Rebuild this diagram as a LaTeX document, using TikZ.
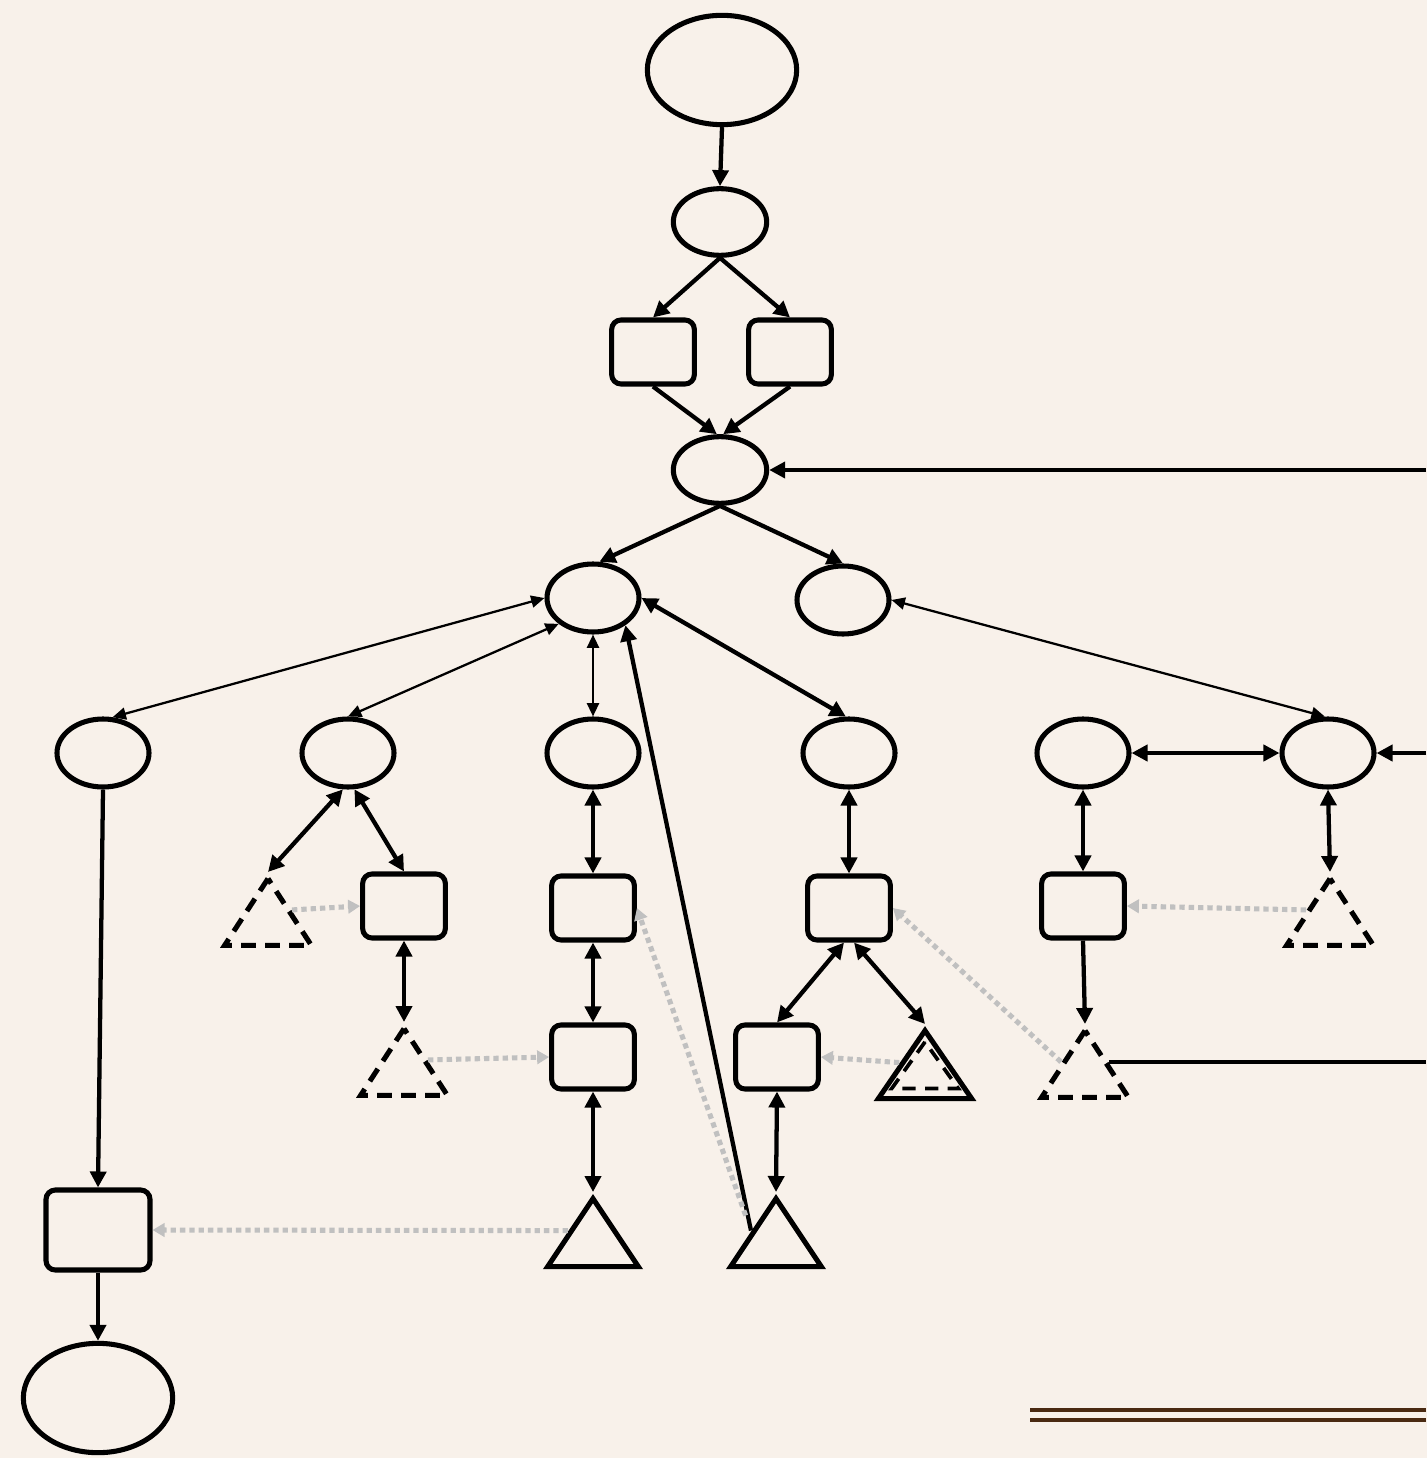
\documentclass[tikz,border=0pt]{standalone}
\usetikzlibrary{shapes.geometric,arrows.meta,calc}
\definecolor{paper}{HTML}{F8F1EA}
\definecolor{hintgray}{HTML}{C0C0C0}
\definecolor{rulebrown}{HTML}{4A2A12}
\tikzset{
  every node/.style={inner sep=0pt},
  oval/.style={ellipse, draw, line width=3.8pt, minimum width=69pt, minimum height=51pt},
  bigoval/.style={oval, minimum width=112pt, minimum height=82pt},
  midoval/.style={oval, minimum width=70pt, minimum height=50pt},
  box/.style={rectangle, rounded corners=7pt, draw, line width=3.8pt, minimum width=62pt, minimum height=48pt},
  bigbox/.style={box, minimum width=78pt, minimum height=60pt},
  tri/.style={isosceles triangle, isosceles triangle stretches, shape border rotate=90,
    draw, line width=3.8pt, minimum width=65pt, minimum height=50pt, anchor=apex},
  dtri/.style={tri, dash pattern=on 11pt off 7pt},
  link/.style={line width=3.2pt, -{Triangle[length=12pt,width=12pt]}},
  blink/.style={line width=3.2pt, {Triangle[length=12pt,width=12pt]}-{Triangle[length=12pt,width=12pt]}},
  tlink/.style={line width=1.7pt, {Triangle[length=10pt,width=9pt]}-{Triangle[length=10pt,width=9pt]}},
  hint/.style={hintgray, line width=3.8pt, dash pattern=on 4pt off 3pt, -{Triangle[length=9pt,width=10pt]}},
}
\begin{document}
\begin{tikzpicture}[x=0.75pt,y=-0.75pt]
% paper
\useasboundingbox (0,0) rectangle (1426,1458);
\fill[paper] (-10,-10) rectangle (1436,1468);

% top chain
\node[bigoval] (E0) at (722,70) {};
\node[midoval] (E1) at (720,222) {};
\node[box] (R1) at (653,352) {};
\node[box] (R2) at (790,352) {};
\node[midoval] (E2) at (720,470) {};
\node[oval] (E3) at (593,598) {};
\node[oval] (E4) at (843,600) {};

% ellipse row
\node[oval] (E5) at (103,753) {};
\node[oval] (E6) at (348,753) {};
\node[oval] (E7) at (593,753) {};
\node[oval] (E8) at (849,753) {};
\node[oval] (E9) at (1083,753) {};
\node[oval] (E10) at (1328,753) {};

% box row
\node[box] (R3) at (404,906) {};
\node[box] (R4) at (593,908) {};
\node[box] (R5) at (849,908) {};
\node[box] (R6) at (1083,906) {};
\node[dtri] (T1) at (268,872) {};
\node[dtri] (T7) at (1330,872) {};

% lower row
\node[dtri] (T2) at (404,1022) {};
\node[box] (R7) at (593,1057) {};
\node[box] (R8) at (777,1057) {};
\node[tri, minimum width=70pt, minimum height=51pt] (T3) at (925,1024) {};
\node[tri, line width=2.8pt, dash pattern=on 10pt off 7pt, minimum width=50pt, minimum height=35pt] (T3in) at (925,1037) {};
\node[dtri] (T4) at (1085,1024) {};

% bottom row
\node[bigbox] (R9) at (98,1230) {};
\node[tri, minimum width=68pt, minimum height=51pt] (T5) at (593,1192) {};
\node[tri, minimum width=68pt, minimum height=51pt] (T6) at (776,1192) {};
\node[bigoval] (E11) at (98,1398) {};

% entries from the right margin
\coordinate (inA) at (1426,470);
\coordinate (inB) at (1426,753);
\coordinate (outC) at (1426,1056);

% solid connectors
\draw[link] (E0.south) -- (E1.north);
\draw[link] (E1.south) -- (R1.north);
\draw[link] (E1.south) -- (R2.north);
\draw[link] (R1.south) -- (E2.95);
\draw[link] (R2.south) -- (E2.85);
\draw[link] (inA) -- (E2.east);
\draw[link] (E2.south) -- (E3.80);
\draw[link] (E2.south) -- (E4.north);
\draw[tlink] (E3.west) -- (E5.75);
\draw[tlink] (E3.217) -- (E6.north);
\draw[tlink] (E3.south) -- (E7.north);
\draw[blink] (E3.east) -- (E8.95);
\draw[tlink] (E4.east) -- (E10.95);
\draw[blink] (E9.east) -- (E10.west);
\draw[link] (inB) -- (E10.east);
\draw[link] (E5.south) -- (R9.north);
\draw[link] (R9.south) -- (E11.north);
\draw[blink] (E6.-98) -- (T1.apex);
\draw[blink] (E6.-80) -- (R3.north);
\draw[blink] (R3.south) -- (T2.apex);
\draw[blink] (E7.south) -- (R4.north);
\draw[blink] (R4.south) -- (R7.north);
\draw[blink] (R7.south) -- (T5.apex);
\draw[link] (T6.left side) -- (E3.-40);
\draw[blink] (E8.south) -- (R5.north);
\draw[blink] ($(R5.south)+(-5,0)$) -- (R8.north);
\draw[blink] ($(R5.south)+(5,0)$) -- (T3.apex);
\draw[blink] (R8.south) -- (T6.apex);
\draw[blink] (E9.south) -- (R6.north);
\draw[link] (R6.south) -- (T4.apex);
\draw[blink] (E10.south) -- (T7.apex);
\draw[line width=3.2pt] (T4.right side) -- (T4.right side -| outC);

% dotted hints
\draw[hint] (T1.right side) -- (R3.west);
\draw[hint] (T2.right side) -- (R7.west);
\draw[hint] (T5.left side) -- (R9.east);
\draw[hint, shorten <=12pt] (T6.left side) -- (R4.east);
\draw[hint] (T3.left side) -- (R8.east);
\draw[hint] (T4.left side) -- (R5.east);
\draw[hint] (T7.left side) -- (R6.east);

% double rule
\draw[rulebrown, line width=2.4pt] (1030,1410) -- (1426,1410);
\draw[rulebrown, line width=2.4pt] (1030,1420) -- (1426,1420);
\end{tikzpicture}
\end{document}
